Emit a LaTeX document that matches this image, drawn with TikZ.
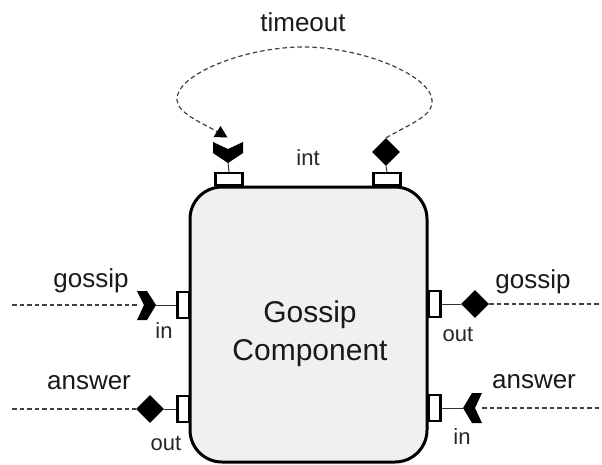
\documentclass[tikz,border=0pt]{standalone}
\usepackage{fontspec}
\setmainfont{Liberation Sans}
\usetikzlibrary{shapes.geometric}
\begin{document}
\begin{tikzpicture}[x=1pt,y=-1pt,
  comp/.style={draw=black, line width=3pt, fill=black!6, rounded corners=32pt, minimum width=237pt, minimum height=275pt, inner sep=0pt},
  title/.style={align=center, inner sep=0pt, font=\fontsize{30}{38}\selectfont, text=black!90},
  hport/.style={draw=black, line width=2.4pt, fill=white, minimum width=27pt, minimum height=12pt, inner sep=0pt},
  vport/.style={draw=black, line width=2.4pt, fill=white, minimum width=12pt, minimum height=26pt, inner sep=0pt},
  dia/.style={diamond, fill=black, minimum width=28pt, minimum height=28pt, inner sep=0pt},
  chev/.style={fill=black},
  stub/.style={line width=1pt, draw=black!80},
  conn/.style={dash pattern=on 4.5pt off 3pt, line width=1.2pt, draw=black!75},
  lbl/.style={font=\fontsize{26}{30}\selectfont, inner sep=0pt, text=black!90},
  plbl/.style={font=\fontsize{22}{26}\selectfont, inner sep=0pt, text=black!85}
]
\useasboundingbox (0,0) rectangle (602,464);

% component
\node[comp] (comp) at (308.5,324.5) {};
\node[title] (title) at (310,334) {Gossip\\Component};

% ports
\node[hport] (pt1) at (229,179) {};
\node[hport] (pt2) at (387,179) {};
\node[vport] (pl1) at (183.5,305) {};
\node[vport] (pl2) at (183.5,409) {};
\node[vport] (pr1) at (434.5,304) {};
\node[vport] (pr2) at (434.5,408) {};

% symbols
\coordinate (chT) at (228,163);
\fill[chev] ([shift={(-15,-21)}]chT) -- ([shift={(0,-14)}]chT) -- ([shift={(15,-21)}]chT) -- ([shift={(15,-10)}]chT) -- (chT) -- ([shift={(-15,-10)}]chT) -- cycle;
\node[dia] (dT) at (386,152) {};

\coordinate (chL) at (156,305);
\fill[chev] ([shift={(-19,-14)}]chL) -- ([shift={(-9,-14)}]chL) -- (chL) -- ([shift={(-9,15)}]chL) -- ([shift={(-19,15)}]chL) -- ([shift={(-12,0)}]chL) -- cycle;
\node[dia] (dL) at (150,409) {};

\node[dia] (dR) at (475,304) {};
\coordinate (chR) at (463,408);
\fill[chev] ([shift={(19,-15)}]chR) -- ([shift={(9,-15)}]chR) -- (chR) -- ([shift={(9,15)}]chR) -- ([shift={(19,15)}]chR) -- ([shift={(12,0)}]chR) -- cycle;

% stubs
\draw[stub] (pt1.north) -- (chT);
\draw[stub] (pt2.north) -- (dT.south);
\draw[stub] (pl1.west) -- (chL);
\draw[stub] (pl2.west) -- (dL.east);
\draw[stub] (pr1.east) -- (dR.west);
\draw[stub] (pr2.east) -- (chR);

% dashed connectors
\coordinate (eL1) at (12,305);
\coordinate (eL2) at (12,409);
\coordinate (eR1) at (602,304);
\coordinate (eR2) at (602,408);
\coordinate (chLb) at (137,305);
\coordinate (chRb) at (482,408);
\draw[conn] (eL1) -- (chLb);
\draw[conn] (eL2) -- (dL.west);
\draw[conn] (dR.east) -- (eR1);
\draw[conn] (chRb) -- (eR2);

% timeout loop
\coordinate (loopR) at (432,100);
\coordinate (loopTop) at (303,47);
\coordinate (loopL) at (177,100);
\coordinate (arrBase) at (217,131.5);
\coordinate (arrEnd) at (227.5,137.5);
\draw[conn] (dT.north)
  .. controls (414,122) and (434,115) .. (loopR)
  .. controls (430,75) and (362,47) .. (loopTop)
  .. controls (244,47) and (175,75) .. (loopL)
  .. controls (178,113) and (200,122) .. (arrBase);
\fill[black] (arrEnd) -- ([shift={(-3.5,5.5)}]arrBase) -- ([shift={(3.5,-5.5)}]arrBase) -- cycle;

% labels
\node[lbl] (lTimeout) at (303,22) {timeout};
\node[plbl] (lInt) at (308,158) {int};
\node[lbl] (lGossipL) at (91,281) {gossip};
\node[plbl] (lInL) at (164,331) {in};
\node[lbl] (lAnswerL) at (89,383) {answer};
\node[plbl] (lOutL) at (166,443) {out};
\node[lbl] (lGossipR) at (533,282) {gossip};
\node[plbl] (lOutR) at (458,334) {out};
\node[lbl] (lAnswerR) at (534,382) {answer};
\node[plbl] (lInR) at (462,437) {in};
\end{tikzpicture}
\end{document}
